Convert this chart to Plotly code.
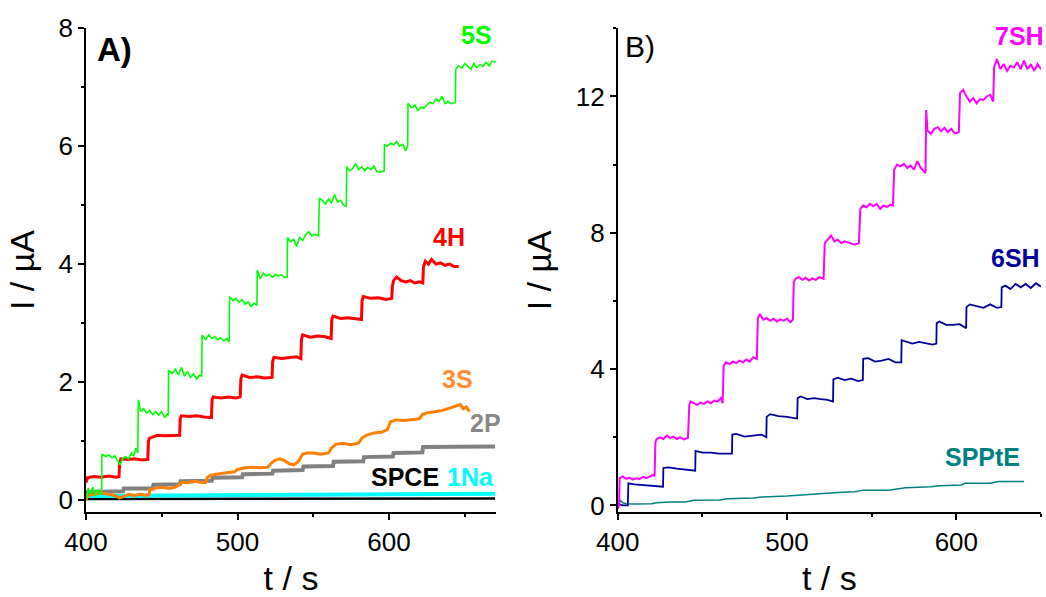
import plotly.graph_objects as go

# ---------------- Panel A data (t / s, I / uA) ----------------
t_5S = [400, 401.5, 403, 404.5, 406, 407.5, 409, 410.3,
        410.5, 413, 415, 417, 419, 421, 422.5, 424, 426, 428, 430, 431.5, 433, 434.2,
        434.5, 436, 438, 440, 442, 444, 446, 448, 450, 452, 453.5, 454.3,
        454.5, 457, 459, 461, 463, 465, 467, 469, 471, 473, 475, 476.4,
        476.6, 479, 481, 483, 485, 487, 489, 491, 493, 494.6,
        494.8, 497, 499, 501, 503, 505, 507, 509, 511, 512.8,
        513.0, 515, 517, 519, 521, 523, 525, 527, 529, 531, 532.8,
        533.0, 535, 537, 539, 541, 543, 545, 547, 549, 551, 553.5,
        554.0, 556, 558, 560, 562, 564, 566, 568, 570, 571.8,
        572.0, 574, 576, 578, 580, 582, 584, 586, 588, 590, 592, 594, 596.8,
        597.0, 599, 601, 603, 605, 607, 609, 611, 612.3,
        612.5, 615, 617, 619, 621, 623, 625, 627, 629, 631, 633, 635, 637, 639, 641, 643.8,
        644.0, 646, 648, 650, 652, 654, 656, 658, 660, 662, 664, 666, 668, 670.5]
i_5S = [0.02, 0.2, 0.1, 0.22, 0.08, 0.18, 0.12, 0.1,
        0.78, 0.74, 0.77, 0.72, 0.75, 0.66, 0.60, 0.7, 0.74, 0.7, 0.8, 0.75, 0.88, 0.8,
        1.7, 1.5, 1.55, 1.48, 1.52, 1.45, 1.5, 1.44, 1.5, 1.4, 1.46, 1.45,
        2.2, 2.15, 2.22, 2.12, 2.25, 2.1, 2.18, 2.08, 2.14, 2.05, 2.12, 2.1,
        2.8, 2.72, 2.8, 2.74, 2.77, 2.72, 2.75, 2.7, 2.74, 2.68,
        3.45, 3.38, 3.42, 3.35, 3.4, 3.32, 3.36, 3.28, 3.34, 3.3,
        3.9, 3.75, 3.85, 3.8, 3.83, 3.78, 3.82, 3.8, 3.82, 3.77, 3.78,
        4.45, 4.38, 4.42, 4.3, 4.45, 4.4, 4.5, 4.55, 4.48, 4.5, 4.48,
        5.12, 5.08, 5.02, 5.1, 5.04, 5.18, 5.05, 5.08, 5.0, 4.98,
        5.65, 5.58, 5.62, 5.7, 5.6, 5.65, 5.58, 5.64, 5.6, 5.66, 5.57, 5.56, 5.58,
        6.02, 6.0, 6.05, 6.02, 6.08, 6.0, 6.03, 5.92, 6.0,
        6.72, 6.65, 6.7, 6.6, 6.66, 6.64, 6.7, 6.74, 6.72, 6.8, 6.76, 6.84, 6.72, 6.76, 6.72, 6.74,
        7.3, 7.36, 7.32, 7.4, 7.35, 7.3, 7.4, 7.33, 7.38, 7.35, 7.42, 7.36, 7.44, 7.42]

t_4H = [400, 401, 405, 410, 415, 420, 421.8,
        422.2, 423, 427, 432, 437, 440.8,
        441.2, 442, 447, 452, 457, 461.8,
        462.2, 463, 468, 473, 478, 482.8,
        483.2, 484, 489, 494, 499, 501.8,
        502.2, 503, 508, 513, 518, 522.8,
        523.2, 524, 529, 534, 539, 541.8,
        542.2, 543, 548, 553, 558, 561.8,
        562.2, 563, 568, 573, 578, 581.8,
        582.2, 583, 588, 593, 598, 601.8,
        602.2, 603, 605, 608, 611, 614, 617, 620, 622.3,
        622.7, 624, 626, 628, 631, 634, 637, 640, 643, 646]
i_4H = [0.3, 0.38, 0.4, 0.39, 0.41, 0.39, 0.4,
        0.62, 0.7, 0.69, 0.7, 0.68, 0.69,
        1.0, 1.05, 1.1, 1.09, 1.1, 1.1,
        1.38, 1.43, 1.42, 1.43, 1.41, 1.4,
        1.7, 1.75, 1.73, 1.75, 1.73, 1.75,
        2.05, 2.12, 2.08, 2.09, 2.07, 2.08,
        2.35, 2.42, 2.4, 2.42, 2.43, 2.4,
        2.72, 2.8, 2.76, 2.78, 2.77, 2.74,
        3.05, 3.12, 3.08, 3.09, 3.07, 3.06,
        3.38, 3.45, 3.42, 3.43, 3.4, 3.42,
        3.62, 3.72, 3.78, 3.72, 3.7, 3.72, 3.68, 3.7, 3.68,
        3.95, 4.05, 4.0, 4.08, 4.0, 4.02, 3.98, 4.0, 3.96, 3.96]

t_3S = [400, 401, 405, 410, 415, 419, 422, 425, 428, 432, 436, 440, 441.8,
        442, 445, 450, 455, 459, 461, 463, 468, 472, 476, 479, 480, 482, 486, 490,
        494, 498, 500, 505, 510, 515, 520, 522, 525, 528, 531, 534, 537, 540, 543,
        546, 550, 555, 560, 562, 565, 570, 575, 580, 582, 585, 590, 595, 599, 601,
        605, 610, 615, 620, 622, 625, 630, 635, 640, 645, 647, 649, 651, 653]
i_3S = [0.0, 0.08, 0.1, 0.12, 0.1, 0.08, 0.04, 0.06, 0.1, 0.08, 0.1, 0.08, 0.1,
        0.18, 0.2, 0.22, 0.2, 0.22, 0.25, 0.3, 0.3, 0.32, 0.3, 0.3, 0.38, 0.42, 0.44, 0.46,
        0.47, 0.48, 0.52, 0.55, 0.56, 0.55, 0.56, 0.62, 0.68, 0.7, 0.67, 0.62, 0.6, 0.65, 0.78,
        0.8, 0.8, 0.78, 0.8, 0.88, 0.95, 0.96, 0.94, 0.97, 1.05, 1.1, 1.14, 1.15, 1.2, 1.33,
        1.36, 1.35, 1.37, 1.38, 1.45, 1.48, 1.5, 1.52, 1.56, 1.6, 1.62, 1.55, 1.58, 1.5]

t_2P = [400, 424.5, 425, 444, 444.5, 462, 462.5, 483, 483.5, 503, 503.5, 523, 523.5,
        543, 543.5, 563, 563.5, 583, 583.5, 602.5, 603, 622, 622.5, 670]
i_2P = [0.14, 0.15, 0.2, 0.2, 0.26, 0.27, 0.32, 0.33, 0.38, 0.39, 0.44, 0.45, 0.5,
        0.51, 0.57, 0.58, 0.65, 0.66, 0.73, 0.74, 0.8, 0.81, 0.9, 0.91]

t_1Na = [400, 450, 500, 550, 600, 640, 670]
i_1Na = [0.07, 0.08, 0.08, 0.09, 0.1, 0.11, 0.11]

t_SPCE = [400, 670]
i_SPCE = [0.02, 0.03]

# ---------------- Panel B data ----------------
t_7SH = [400, 400.8, 401.2, 403, 405, 407, 409, 411, 413, 415, 417, 419, 421, 421.8,
         422.3, 423, 425, 427, 429, 431, 433, 435, 437, 439, 441.5,
         442.3, 443, 445, 447, 449, 451, 453, 455, 457, 459, 461, 462,
         462.6, 464, 466, 468, 470, 472, 474, 476, 478, 480, 482.2,
         482.8, 484, 486, 488, 490, 492, 494, 496, 498, 500, 502, 503.5,
         504, 505, 507, 509, 511, 513, 515, 517, 519, 521.6,
         522.3, 524, 526, 528, 530, 532, 534, 536, 538, 540, 542.5,
         543.3, 545, 547, 549, 551, 553, 555, 557, 559, 561, 562.6,
         563.3, 565, 567, 569, 571, 573, 575, 577, 579, 581, 581.8,
         582.2, 583, 585, 587, 589, 591, 593, 595, 597, 599, 601.5,
         602.2, 604, 606, 608, 610, 612, 614, 616, 618, 620, 621.8,
         622.3, 624, 626, 628, 630, 632, 634, 636, 638, 640, 642, 644, 646, 648, 650]
i_7SH = [-0.1, 0.0, 0.8, 0.85, 0.78, 0.82, 0.76, 0.8, 0.78, 0.84, 0.8, 0.86, 0.9, 0.85,
         1.85, 1.95, 2.0, 1.95, 2.05, 1.98, 2.02, 1.95, 2.0, 1.94, 1.98,
         2.95, 3.05, 3.0, 2.95, 3.02, 2.98, 3.05, 3.0, 3.08, 3.05, 3.15, 3.0,
         4.1, 4.2, 4.15, 4.22, 4.18, 4.25, 4.2, 4.28, 4.22, 4.35, 4.3,
         5.5, 5.62, 5.45, 5.5, 5.42, 5.48, 5.4, 5.46, 5.42, 5.48, 5.38, 5.45,
         6.55, 6.65, 6.7, 6.62, 6.68, 6.6, 6.66, 6.62, 6.7, 6.65,
         7.7, 7.8, 7.92, 7.75, 7.8, 7.7, 7.75, 7.72, 7.68, 7.65, 7.7,
         8.7, 8.8, 8.75, 8.85, 8.78, 8.85, 8.7, 8.8, 8.76, 8.82, 8.8,
         9.85, 10.0, 9.95, 10.02, 9.9, 9.98, 9.85, 10.1, 9.9, 9.8, 9.75,
         11.6, 11.0, 10.9, 11.05, 11.1, 10.98, 11.08, 10.95, 11.05, 10.92, 10.95,
         12.1, 12.2, 12.0, 11.85, 11.95, 11.8, 11.92, 11.9, 12.0, 12.05, 11.85,
         12.85, 13.1, 12.8, 12.95, 12.75, 12.9, 12.85, 13.0, 12.8, 13.05, 12.8, 12.95, 12.75, 12.95, 12.8]

t_6SH = [400, 403, 406,
         406.3, 410, 415, 420, 426.8,
         427, 430, 435, 440, 445.8,
         446, 450, 455, 460, 467.5,
         467.7, 470, 475, 480, 485, 487.8,
         488, 490, 495, 500, 506,
         506.3, 508, 512, 516, 520, 524, 527.2,
         527.4, 530, 534, 538, 542, 544.8,
         545, 548, 552, 556, 560, 564, 567.5,
         567.7, 570, 574, 578, 582, 586, 588.2,
         588.4, 590, 594, 598, 602, 605.8,
         606, 608, 612, 616, 620, 624, 626.6,
         626.8, 629, 632, 635, 638, 641, 644, 647, 650]
i_6SH = [0.05, 0.0, 0.0,
         0.65, 0.62, 0.6, 0.58, 0.55,
         1.1, 1.12, 1.08, 1.05, 1.02,
         1.6, 1.55, 1.55, 1.52, 1.52,
         2.08, 2.1, 2.02, 2.05, 2.08, 2.0,
         2.6, 2.68, 2.62, 2.6, 2.55,
         3.15, 3.2, 3.12, 3.15, 3.12, 3.1, 3.05,
         3.7, 3.75, 3.68, 3.72, 3.65, 3.68,
         4.3, 4.32, 4.22, 4.25, 4.3, 4.2, 4.2,
         4.85, 4.82, 4.75, 4.8, 4.75, 4.72, 4.75,
         5.35, 5.4, 5.3, 5.3, 5.32, 5.2,
         5.82, 5.9, 5.85, 5.8, 5.9, 5.8, 5.82,
         6.4, 6.45, 6.35, 6.5, 6.4, 6.5, 6.38, 6.52, 6.42]

t_SPPtE = [400, 401.5, 403, 405, 410, 420, 423, 430, 440, 445, 460, 465, 480, 485,
           500, 505, 520, 530, 540, 545, 560, 570, 585, 590, 603, 605, 620, 625, 640]
i_SPPtE = [0.0, 0.15, 0.08, 0.05, 0.04, 0.05, 0.08, 0.1, 0.1, 0.15, 0.16, 0.2, 0.22, 0.25,
           0.28, 0.3, 0.36, 0.38, 0.4, 0.45, 0.45, 0.52, 0.55, 0.58, 0.6, 0.65, 0.65, 0.7, 0.7]

FONT = "Liberation Sans, Arial, sans-serif"

fig = go.Figure()

def add(t, i, color, width, xa, ya):
    fig.add_trace(go.Scatter(x=t, y=i, mode="lines", line=dict(color=color, width=width),
                             xaxis=xa, yaxis=ya, showlegend=False, hoverinfo="skip"))

# Panel A (draw order: back to front)
add(t_SPCE, i_SPCE, "#000000", 2.5, "x", "y")
add(t_1Na, i_1Na, "#00FFFF", 4, "x", "y")
add(t_2P, i_2P, "#808080", 4, "x", "y")
add(t_3S, i_3S, "#FF7F00", 3, "x", "y")
add(t_4H, i_4H, "#FF0000", 3, "x", "y")
add(t_5S, i_5S, "#00FF00", 1.6, "x", "y")

# Panel B
add(t_SPPtE, i_SPPtE, "#008080", 1.5, "x2", "y2")
add(t_6SH, i_6SH, "#00009C", 1.8, "x2", "y2")
add(t_7SH, i_7SH, "#FF00FF", 2, "x2", "y2")

axis_common = dict(showline=True, linecolor="black", linewidth=1.5, ticks="outside",
                   ticklen=6, tickwidth=1.5, tickcolor="black", showgrid=False,
                   zeroline=False, mirror=False, automargin=False,
                   tickfont=dict(family=FONT, size=26, color="black"))
minor_common = dict(ticks="outside", ticklen=3, tickwidth=1.5, tickcolor="black", showgrid=False)
title_font = dict(family=FONT, size=34, color="black")

fig.update_layout(
    width=1046, height=597, margin=dict(l=0, r=0, t=0, b=0),
    paper_bgcolor="white", plot_bgcolor="white",
    xaxis=dict(domain=[0.0822, 0.4742], range=[400, 670.6], tick0=400, dtick=100,
               minor=dict(dtick=50, **minor_common),
               title=dict(text="t / s", font=title_font, standoff=12),
               anchor="y", **axis_common),
    yaxis=dict(domain=[0.1424, 0.953], range=[-0.2, 8], tick0=0, dtick=2,
               minor=dict(dtick=1, **minor_common),
               title=dict(text="I / µA", font=title_font, standoff=14),
               anchor="x", **axis_common),
    xaxis2=dict(domain=[0.5905, 0.9952], range=[400, 650], tick0=400, dtick=100,
                minor=dict(dtick=50, **minor_common),
                title=dict(text="t / s", font=title_font, standoff=12),
                anchor="y2", **axis_common),
    yaxis2=dict(domain=[0.1419, 0.9526], range=[-0.2, 14], tick0=0, dtick=4,
                minor=dict(dtick=2, **minor_common),
                title=dict(text="I / µA", font=title_font, standoff=14),
                anchor="x2", **axis_common),
)

W, H = 1046, 597
def px(xp, yp, text, color, size=25, bold=True):
    t = f"<b>{text}</b>" if bold else text
    fig.add_annotation(text=t, x=xp / W, y=1 - yp / H, xref="paper", yref="paper",
                       showarrow=False, xanchor="center", yanchor="middle",
                       font=dict(family=FONT, size=size, color=color))

px(476, 35, "5S", "#00FF00")
px(449, 237, "4H", "#FF0000")
px(457, 379, "3S", "#FF8C33")
px(485, 423, "2P", "#888888")
px(405, 477, "SPCE", "#000000")
px(470, 477, "1Na", "#00FFFF")
px(114, 50, "A)", "#000000", size=33)
px(1019, 36, "7SH", "#FF00FF")
px(1015, 258, "6SH", "#00009C")
px(982, 457, "SPPtE", "#008080")
px(640, 46, "B)", "#000000", size=30, bold=False)

fig.write_html("out.html")
